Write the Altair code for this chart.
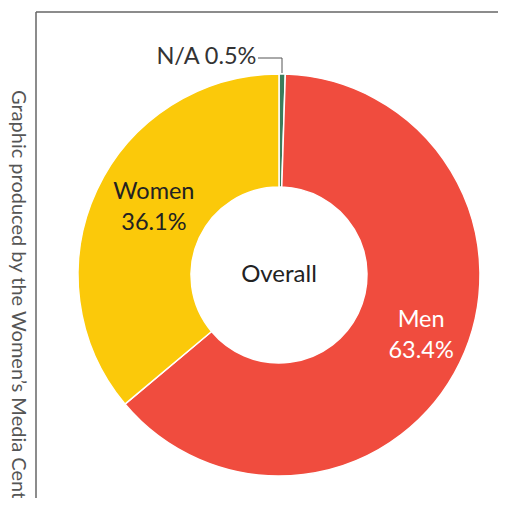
import altair as alt
import pandas as pd

categories = ["N/A", "Men", "Women"]
values = [0.5, 63.4, 36.1]
inner_text = ["", "Men\n63.4%", "Women\n36.1%"]
outer_text = ["N/A 0.5%", "", ""]
colors = ["#3B7D5C", "#F04C3E", "#FBC90A"]
center_label = "Overall"
credit = "Graphic produced by the Women\u2019s Media Center"

df = pd.DataFrame({"cat": categories, "val": values, "inner": inner_text,
                   "outer": outer_text, "order": list(range(len(categories)))})

CX, CY = 271, 267
FONT = "Lato"
base = alt.Chart(df).encode(
    theta=alt.Theta("val:Q", stack=True),
    order=alt.Order("order:Q"),
)

arcs = base.mark_arc(outerRadius=201, innerRadius=88, stroke="white", strokeWidth=1.5,
                     x=CX, y=CY).encode(
    color=alt.Color("cat:N", scale=alt.Scale(domain=categories, range=colors), legend=None)
)

inner_labels = base.mark_text(radius=148, x=CX, y=CY, font=FONT, fontSize=23.5,
                              lineBreak="\n", lineHeight=31, dx=9, dy=-20,
                              align="center", baseline="middle").encode(
    text="inner:N",
    fill=alt.condition(alt.datum.cat == "Men", alt.value("#ffffff"), alt.value("#222222")),
)

na_label = base.mark_text(radius=218, x=CX, y=CY, font=FONT, fontSize=23.5,
                          align="right", baseline="middle", dx=-26,
                          color="#333333").encode(
    text="outer:N"
)

center = alt.Chart(pd.DataFrame({"t": [center_label]})).mark_text(
    font=FONT, fontSize=24, color="#222222", align="center", baseline="middle"
).encode(text="t:N", x=alt.value(CX), y=alt.value(CY))

leader_h = alt.Chart(pd.DataFrame({"a": [0]})).mark_rule(color="#555555", strokeWidth=1).encode(
    x=alt.value(250), x2=alt.value(274), y=alt.value(50))
leader_v = alt.Chart(pd.DataFrame({"a": [0]})).mark_rule(color="#555555", strokeWidth=1).encode(
    x=alt.value(274), y=alt.value(50), y2=alt.value(65))

frame_top = alt.Chart(pd.DataFrame({"a": [0]})).mark_rule(color="#666666", strokeWidth=1.5).encode(
    x=alt.value(28), x2=alt.value(490), y=alt.value(4))
frame_left = alt.Chart(pd.DataFrame({"a": [0]})).mark_rule(color="#666666", strokeWidth=1.5).encode(
    x=alt.value(28), y=alt.value(4), y2=alt.value(490))

credit_text = alt.Chart(pd.DataFrame({"t": [credit]})).mark_text(
    font=FONT, fontSize=20, color="#555555", angle=90, align="left",
    baseline="middle"
).encode(text="t:N", x=alt.value(10), y=alt.value(82))

chart = alt.layer(frame_top, frame_left, credit_text, arcs, inner_labels, na_label,
                  center, leader_h, leader_v).properties(
    width=490, height=490, padding=0, autosize="none"
).configure_view(stroke=None)

chart.save("out.html", embed_options={"renderer": "svg", "actions": False})
